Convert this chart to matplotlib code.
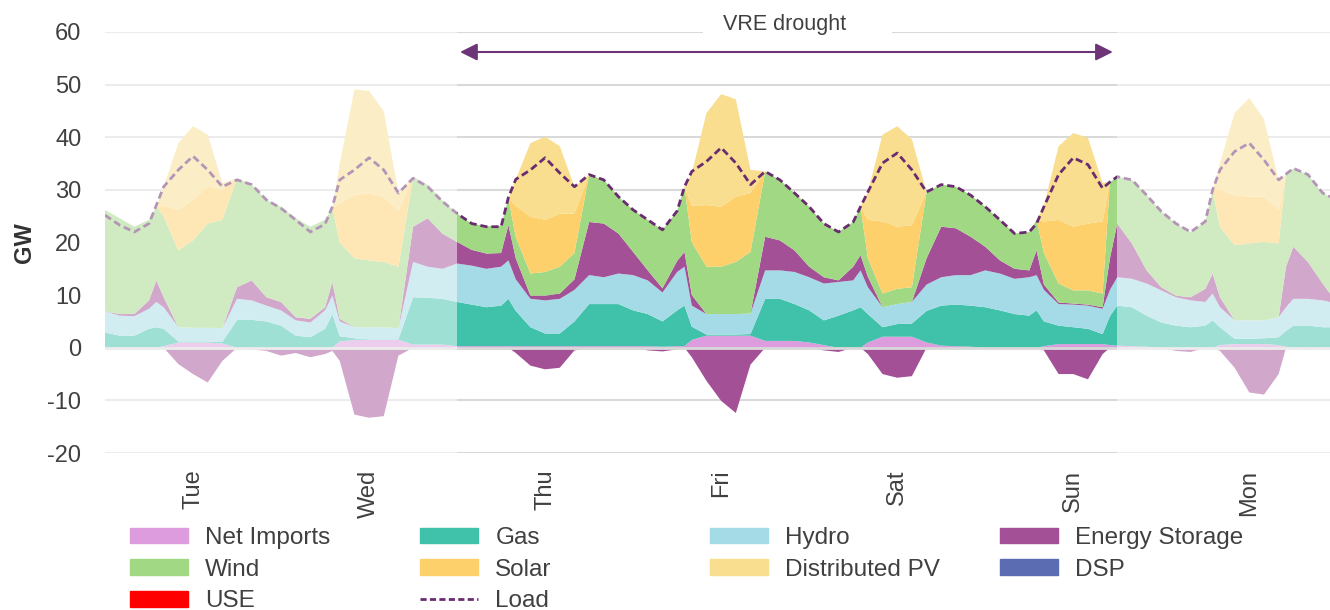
import numpy as np
import matplotlib
matplotlib.use("Agg")
import matplotlib.pyplot as plt
from matplotlib.patches import Patch, Rectangle
from matplotlib.lines import Line2D

plt.rcParams['font.family'] = ['Liberation Sans', 'DejaVu Sans']
plt.rcParams['axes.unicode_minus'] = False

# -- data: hour of week (0 = Tue 00:00), GW by technology --
hours = [0, 2, 4, 6, 7, 8, 10, 12, 14, 16,
         18, 20, 22, 24, 26, 28, 30, 31, 32, 34,
         36, 38, 40, 42, 44, 46, 48, 50, 52, 54,
         55, 56, 58, 60, 62, 64, 66, 68, 70, 72,
         74, 76, 78, 79, 80, 82, 84, 86, 88, 90,
         92, 94, 96, 98, 100, 102, 103, 104, 106, 108,
         110, 112, 114, 116, 118, 120, 122, 124, 126, 127,
         128, 130, 132, 134, 136, 137, 138, 140, 142, 144,
         146, 148, 150, 151, 152, 154, 156, 158, 160, 161,
         162, 164, 166, 167]

net_imports = [0, 0, 0, 0, 0, 0.3, 1.0, 1.0, 1.0, 0.8,
               0, 0, 0, 0, 0, 0, 0, 0, 1.2, 1.5,
               1.5, 1.5, 1.5, 0.6, 0.6, 0.6, 0.3, 0.3, 0.3, 0.3,
               0.3, 0.3, 0.3, 0.3, 0.3, 0.3, 0.3, 0.3, 0.3, 0.3,
               0.3, 0.2, 0.3, 0.3, 1.5, 2.3, 2.3, 2.3, 2.3, 1.3,
               1.3, 1.3, 1.0, 0.5, 0, 0, 0, 1.0, 2.1, 2.1,
               2.1, 1.0, 0.4, 0.3, 0.2, 0, 0, 0, 0, 0,
               0.3, 0.7, 0.7, 0.7, 0.7, 0.5, 0.4, 0.3, 0.2, 0,
               0, 0, 0, 0, 0.5, 0.7, 0.7, 0.7, 0.5, 0.2,
               0, 0, 0, 0]

gas = [2.9, 2.3, 2.3, 3.6, 3.9, 3.3, 0.2, 0.2, 0.2, 0.3,
       5.3, 5.3, 5.0, 4.2, 2.3, 2.0, 3.6, 6.4, 1.0, 0.3,
       0.1, 0.1, 0.1, 9.0, 8.9, 8.7, 8.4, 7.9, 7.4, 7.7,
       9.0, 6.7, 3.6, 2.4, 2.4, 4.7, 8.0, 8.0, 8.0, 6.8,
       6.1, 4.8, 6.8, 7.7, 2.5, 0.2, 0.2, 0.2, 0.3, 8.0,
       8.0, 7.0, 6.1, 4.7, 6.1, 7.1, 7.7, 5.4, 1.8, 2.4,
       2.5, 6.0, 7.6, 7.9, 7.8, 7.7, 7.1, 6.4, 6.1, 7.1,
       4.7, 3.5, 3.2, 2.9, 1.9, 5.5, 7.6, 7.4, 5.9, 4.8,
       4.2, 3.9, 4.2, 5.2, 3.4, 1.0, 1.0, 1.1, 1.5, 3.0,
       4.2, 4.2, 3.9, 3.9]

hydro = [4.0, 3.8, 3.7, 3.8, 4.8, 4.1, 2.7, 2.6, 2.6, 2.6,
         4.0, 3.7, 3.0, 2.9, 2.9, 2.8, 3.5, 3.5, 2.8, 2.1,
         2.3, 2.3, 2.1, 6.7, 5.9, 5.7, 7.3, 7.4, 7.3, 7.4,
         7.3, 6.0, 5.4, 6.3, 6.6, 6.0, 5.5, 5.1, 5.8, 6.7,
         6.4, 5.5, 7.3, 7.4, 4.0, 3.9, 3.9, 3.9, 3.9, 5.4,
         5.4, 6.1, 6.3, 7.0, 6.4, 5.7, 7.0, 5.1, 3.8, 3.8,
         4.1, 5.0, 5.4, 5.6, 5.8, 7.0, 7.0, 6.7, 7.3, 6.7,
         6.0, 4.1, 4.3, 4.4, 4.8, 5.0, 5.4, 5.4, 6.1, 6.1,
         5.4, 5.1, 4.5, 5.1, 3.8, 3.5, 3.5, 3.4, 3.8, 4.5,
         5.1, 5.1, 5.1, 4.8]

storage_gen = [0, 0.3, 0.4, 1.6, 4.1, 1.9, 0, 0, 0, 0,
               2.2, 3.8, 1.6, 1.6, 0.6, 0.7, 0.6, 2.6, 0.5, 0,
               0, 0, 0, 6.7, 9.2, 6.7, 4.1, 3.0, 2.9, 2.6,
               6.7, 4.0, 0.6, 0.9, 1.0, 2.0, 10.1, 10.2, 7.6, 4.4,
               1.9, 0.8, 2.1, 2.8, 2.0, 0, 0, 0, 0, 6.4,
               5.7, 4.1, 2.0, 1.2, 0.3, 2.6, 2.9, 2.0, 0, 0,
               0, 5.0, 9.6, 8.9, 7.3, 4.5, 2.5, 1.9, 1.3, 4.7,
               1.0, 0.3, 0.2, 0.2, 0.3, 6.0, 10.2, 6.7, 2.5, 0.6,
               0.3, 0.6, 2.5, 3.8, 1.9, 0, 0, 0, 0, 7.7,
               9.9, 7.0, 3.2, 1.6]

wind = [19.3, 18.2, 16.6, 15.3, 14.0, 15.4, 14.6, 16.6, 19.8, 20.6,
        20.7, 18.2, 18.5, 18.1, 18.8, 17.5, 16.6, 14.0, 14.5, 13.1,
        12.7, 12.4, 11.7, 9.5, 6.3, 6.3, 5.4, 5.0, 5.2, 5.2,
        5.1, 4.0, 4.2, 4.5, 5.1, 5.0, 9.0, 8.3, 7.0, 8.0,
        9.6, 11.1, 9.5, 12.4, 10.0, 9.0, 9.0, 9.9, 11.7, 12.4,
        11.5, 10.9, 11.4, 10.2, 9.2, 8.5, 9.2, 3.5, 2.6, 2.9,
        2.8, 12.6, 8.0, 7.9, 7.9, 7.6, 7.7, 6.7, 7.3, 5.8,
        6.0, 3.6, 2.5, 2.7, 2.6, 14.5, 8.9, 12.1, 14.3, 14.4,
        13.7, 12.4, 12.8, 15.9, 13.4, 14.3, 14.6, 14.9, 14.0, 17.6,
        14.9, 16.6, 17.2, 18.4]

solar = [0, 0, 0, 0, 0, 2.0, 7.7, 7.7, 7.0, 5.7,
         0, 0, 0, 0, 0, 0, 0, 0, 7.5, 12.0,
         12.8, 12.4, 10.6, 0, 0, 0, 0, 0, 0, 0,
         0, 6.0, 10.8, 9.9, 10.1, 7.5, 0, 0, 0, 0,
         0, 0, 0, 0, 7.0, 11.7, 11.4, 12.4, 11.2, 0,
         0, 0, 0, 0, 0, 0, 0, 7.3, 13.7, 11.8,
         11.8, 0, 0, 0, 0, 0, 0, 0, 0, 0,
         6.0, 12.1, 12.1, 12.7, 13.7, 0, 0, 0, 0, 0,
         0, 0, 0, 0, 7.0, 9.5, 8.9, 8.6, 6.4, 0,
         0, 0, 0, 0]

distributed_pv = [0, 0, 0, 0, 0, 3.6, 12.7, 14.0, 9.9, 1.3,
                  0, 0, 0, 0, 0, 0, 0, 0, 7.5, 20.1,
                  19.4, 16.3, 3.4, 0, 0, 0, 0, 0, 0, 0,
                  0, 5.0, 14.0, 15.8, 12.8, 5.1, 0, 0, 0, 0,
                  0, 0, 0, 0, 6.2, 17.5, 21.4, 18.5, 4.4, 0,
                  0, 0, 0, 0, 0, 0, 0, 5.3, 16.5, 19.1,
                  16.3, 0, 0, 0, 0, 0, 0, 0, 0, 0,
                  3.0, 14.0, 17.8, 16.3, 7.3, 0, 0, 0, 0, 0,
                  0, 0, 0, 0, 5.1, 15.6, 18.8, 14.7, 5.7, 0,
                  0, 0, 0, 0]

storage_charge = [0, 0, 0, 0, 0, 0, -3.1, -5.0, -6.6, -2.5,
                  0, -0.3, -0.6, -1.5, -1.0, -1.8, -1.2, -0.6, -2.5, -12.7,
                  -13.3, -13.0, -1.5, 0, 0, 0, 0, 0, 0, 0,
                  0, -1.0, -3.4, -4.1, -3.8, -0.5, 0, 0, 0, 0,
                  -0.5, -0.7, -0.3, 0, -1.8, -6.3, -10.1, -12.4, -3.2, 0,
                  0, 0, 0, -0.5, -0.8, 0, 0, -1.2, -5.0, -5.7,
                  -5.4, 0, 0, 0, 0, 0, 0, 0, 0, 0,
                  -0.5, -5.0, -5.0, -6.0, -1.2, 0, 0, 0, 0, 0,
                  -0.6, -0.8, 0, 0, -0.6, -3.8, -8.5, -8.9, -5.0, 0,
                  0, -0.3, 0, 0]

net_exports = [-0.3, -0.3, 0, -0.3, 0, 0, 0, 0, 0, 0,
               0, 0, 0, 0, 0, 0, 0, 0, 0, 0,
               0, 0, 0, 0, 0, 0, 0, 0, 0, 0,
               0, 0, 0, 0, 0, 0, 0, 0, 0, 0,
               0, 0, 0, 0, 0, 0, 0, 0, 0, 0,
               0, 0, 0, 0, 0, 0, 0, 0, 0, 0,
               0, 0, 0, 0, 0, 0, 0, 0, 0, 0,
               0, 0, 0, 0, 0, 0, 0, 0, 0, 0,
               0, 0, 0, 0, 0, 0, 0, 0, 0, 0,
               0, 0, 0, 0]

load = [25.2, 23.3, 22.0, 23.6, 27.1, 30.6, 33.8, 36.4, 33.8, 30.6,
        31.9, 31.0, 28.1, 26.5, 24.3, 22.0, 23.5, 26.8, 31.9, 33.8,
        36.1, 33.8, 29.4, 32.2, 30.6, 27.8, 25.5, 23.6, 23.0, 23.0,
        28.6, 32.0, 33.8, 36.1, 33.2, 30.6, 32.9, 31.9, 28.7, 26.2,
        24.3, 22.4, 26.0, 30.6, 33.5, 35.4, 38.0, 35.1, 31.0, 33.5,
        31.9, 29.4, 26.8, 23.6, 22.0, 23.9, 26.8, 29.6, 35.1, 37.0,
        33.8, 29.6, 31.0, 30.6, 29.0, 26.8, 24.3, 21.7, 22.0, 23.6,
        26.8, 32.9, 36.1, 34.8, 30.3, 31.5, 32.5, 31.9, 29.0, 25.9,
        23.6, 22.0, 24.0, 30.0, 33.8, 37.3, 38.9, 35.7, 31.9, 33.0,
        34.1, 32.9, 29.4, 28.7]

day_labels = ["Tue", "Wed", "Thu", "Fri", "Sat", "Sun", "Mon"]
drought_start, drought_end = 48, 138

# -- colours --
C_NI, C_GAS, C_HYDRO, C_ES = "#DC9CDE", "#3FC1AA", "#A4DBE6", "#A35097"
C_WIND, C_SOLAR, C_DPV = "#A1D884", "#FDD06C", "#F8DE8E"
C_DSP, C_USE, C_LOAD = "#5B6CB2", "#FF0000", "#6A2C70"
TXT = "#404040"

fig = plt.figure(figsize=(13.3, 6.1), dpi=100)
ax = fig.add_axes([105 / 1330, 157 / 610, 1225 / 1330, 421 / 610])

ax.stackplot(hours, net_imports, gas, hydro, storage_gen, wind, solar, distributed_pv,
             colors=[C_NI, C_GAS, C_HYDRO, C_ES, C_WIND, C_SOLAR, C_DPV], lw=0, zorder=2)
ax.stackplot(hours, net_exports, storage_charge, colors=[C_NI, C_ES], lw=0, zorder=2)
ax.plot(hours, load, color=C_LOAD, lw=2, dashes=(2.6, 1.4), zorder=4)
ax.axhline(0, color="#D9D9D9", lw=2, zorder=3)

# fade everything outside the drought window
ax.axvspan(0, drought_start, color="white", alpha=0.5, lw=0, zorder=5)
ax.axvspan(drought_end, 167, color="white", alpha=0.5, lw=0, zorder=5)

ax.set_xlim(0, 167)
ax.set_ylim(-20, 60)
ax.set_yticks(range(-20, 61, 10))
ax.grid(axis="y", color="#D9D9D9", lw=1.5)
ax.set_axisbelow(True)
ax.set_xticks([12 + 24 * i for i in range(len(day_labels))])
ax.set_xticklabels(day_labels, rotation=90)
ax.tick_params(axis="y", length=0, pad=17, labelsize=17, labelcolor=TXT)
ax.tick_params(axis="x", length=0, pad=12, labelsize=17, labelcolor=TXT)
for s in ax.spines.values():
    s.set_visible(False)
ax.set_ylabel("GW", fontsize=17, fontweight="bold", color="#333333")
ax.yaxis.set_label_coords(-0.056, 0.5)

# VRE drought marker
ax.add_patch(Rectangle((81.5, 58.5), 25.8, 6.5, fc="white", ec="none", clip_on=False, zorder=3))
ax.annotate("", xy=(drought_start + 0.4, 56.2), xytext=(drought_end - 0.6, 56.2),
            arrowprops=dict(arrowstyle="<|-|>", color="#6E3478", lw=1.5,
                            mutation_scale=26, shrinkA=0, shrinkB=0), zorder=6)
ax.text(92.6, 61.5, "VRE drought", ha="center", va="center", fontsize=15.5,
        color=TXT, clip_on=False, zorder=6)

# legend laid out in fixed columns
columns = [
    [Patch(color=C_NI, label="Net Imports"), Patch(color=C_WIND, label="Wind"),
     Patch(color=C_USE, label="USE")],
    [Patch(color=C_GAS, label="Gas"), Patch(color=C_SOLAR, label="Solar"),
     Line2D([], [], color=C_LOAD, lw=2, dashes=(2.2, 1.2), label="Load")],
    [Patch(color=C_HYDRO, label="Hydro"), Patch(color=C_DPV, label="Distributed PV")],
    [Patch(color=C_ES, label="Energy Storage"), Patch(color=C_DSP, label="DSP")],
]
for x_px, handles in zip([130, 420, 710, 1000], columns):
    fig.legend(handles=handles, loc="upper left", bbox_to_anchor=(x_px / 1330, 1 - 527 / 610),
               frameon=False, fontsize=17.5, handlelength=2.4, handleheight=0.6,
               handletextpad=0.7, labelspacing=0.4, borderpad=0, borderaxespad=0,
               labelcolor=TXT)

fig.savefig("out.png", dpi=100)
